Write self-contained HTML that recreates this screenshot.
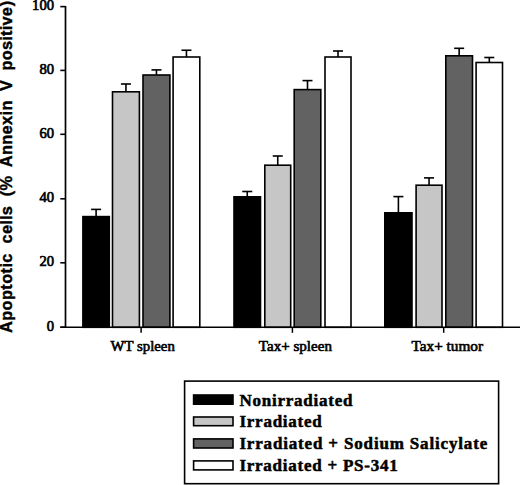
<!DOCTYPE html>
<html><head><meta charset="utf-8"><style>
html,body{margin:0;padding:0;background:#fff;}
svg{display:block;}
.tl{font-family:"Liberation Serif",serif;font-size:14.6px;fill:#000;stroke:#000;stroke-width:0.7px;}
.xl{font-family:"Liberation Serif",serif;font-size:13.8px;fill:#000;stroke:#000;stroke-width:0.6px;}
.yl{font-family:"Liberation Sans",sans-serif;font-weight:bold;font-size:16.4px;fill:#000;stroke:#000;stroke-width:0.4px;}
.lg{font-family:"Liberation Serif",serif;font-weight:bold;font-size:17px;fill:#000;stroke:#000;stroke-width:0.5px;}
</style></head><body>
<svg width="520" height="485" viewBox="0 0 520 485">
<rect width="520" height="485" fill="#fff"/>
<line x1="96.10" y1="209.40" x2="96.10" y2="216.60" stroke="#000" stroke-width="1.6"/>
<line x1="91.10" y1="209.40" x2="101.10" y2="209.40" stroke="#000" stroke-width="1.6"/>
<rect x="82.90" y="216.60" width="26.40" height="110.70" fill="#000" stroke="#000" stroke-width="1.6"/>
<line x1="125.95" y1="84.00" x2="125.95" y2="91.80" stroke="#000" stroke-width="1.6"/>
<line x1="120.95" y1="84.00" x2="130.95" y2="84.00" stroke="#000" stroke-width="1.6"/>
<rect x="112.50" y="91.80" width="26.90" height="235.50" fill="#c6c6c6" stroke="#000" stroke-width="1.6"/>
<line x1="156.45" y1="69.90" x2="156.45" y2="75.00" stroke="#000" stroke-width="1.6"/>
<line x1="151.45" y1="69.90" x2="161.45" y2="69.90" stroke="#000" stroke-width="1.6"/>
<rect x="143.00" y="75.00" width="26.90" height="252.30" fill="#626262" stroke="#000" stroke-width="1.6"/>
<line x1="186.45" y1="50.25" x2="186.45" y2="57.00" stroke="#000" stroke-width="1.6"/>
<line x1="181.45" y1="50.25" x2="191.45" y2="50.25" stroke="#000" stroke-width="1.6"/>
<rect x="173.10" y="57.00" width="26.70" height="270.30" fill="#fff" stroke="#000" stroke-width="1.6"/>
<line x1="247.25" y1="191.50" x2="247.25" y2="196.80" stroke="#000" stroke-width="1.6"/>
<line x1="242.25" y1="191.50" x2="252.25" y2="191.50" stroke="#000" stroke-width="1.6"/>
<rect x="234.00" y="196.80" width="26.50" height="130.50" fill="#000" stroke="#000" stroke-width="1.6"/>
<line x1="277.75" y1="156.00" x2="277.75" y2="165.20" stroke="#000" stroke-width="1.6"/>
<line x1="272.75" y1="156.00" x2="282.75" y2="156.00" stroke="#000" stroke-width="1.6"/>
<rect x="264.80" y="165.20" width="25.90" height="162.10" fill="#c6c6c6" stroke="#000" stroke-width="1.6"/>
<line x1="307.50" y1="80.60" x2="307.50" y2="89.60" stroke="#000" stroke-width="1.6"/>
<line x1="302.50" y1="80.60" x2="312.50" y2="80.60" stroke="#000" stroke-width="1.6"/>
<rect x="294.20" y="89.60" width="26.60" height="237.70" fill="#626262" stroke="#000" stroke-width="1.6"/>
<line x1="338.00" y1="51.00" x2="338.00" y2="57.00" stroke="#000" stroke-width="1.6"/>
<line x1="333.00" y1="51.00" x2="343.00" y2="51.00" stroke="#000" stroke-width="1.6"/>
<rect x="325.00" y="57.00" width="26.00" height="270.30" fill="#fff" stroke="#000" stroke-width="1.6"/>
<line x1="398.40" y1="196.60" x2="398.40" y2="212.80" stroke="#000" stroke-width="1.6"/>
<line x1="393.40" y1="196.60" x2="403.40" y2="196.60" stroke="#000" stroke-width="1.6"/>
<rect x="384.80" y="212.80" width="27.20" height="114.50" fill="#000" stroke="#000" stroke-width="1.6"/>
<line x1="429.05" y1="177.90" x2="429.05" y2="185.20" stroke="#000" stroke-width="1.6"/>
<line x1="424.05" y1="177.90" x2="434.05" y2="177.90" stroke="#000" stroke-width="1.6"/>
<rect x="416.10" y="185.20" width="25.90" height="142.10" fill="#c6c6c6" stroke="#000" stroke-width="1.6"/>
<line x1="459.15" y1="48.30" x2="459.15" y2="55.80" stroke="#000" stroke-width="1.6"/>
<line x1="454.15" y1="48.30" x2="464.15" y2="48.30" stroke="#000" stroke-width="1.6"/>
<rect x="445.80" y="55.80" width="26.70" height="271.50" fill="#626262" stroke="#000" stroke-width="1.6"/>
<line x1="489.30" y1="57.50" x2="489.30" y2="62.50" stroke="#000" stroke-width="1.6"/>
<line x1="484.30" y1="57.50" x2="494.30" y2="57.50" stroke="#000" stroke-width="1.6"/>
<rect x="476.10" y="62.50" width="26.40" height="264.80" fill="#fff" stroke="#000" stroke-width="1.6"/>
<line x1="60.3" y1="6.6" x2="65.5" y2="6.6" stroke="#000" stroke-width="1.6"/>
<text x="54" y="10.0" text-anchor="end" class="tl">100</text>
<line x1="60.3" y1="70.4" x2="65.5" y2="70.4" stroke="#000" stroke-width="1.6"/>
<text x="54" y="73.8" text-anchor="end" class="tl">80</text>
<line x1="60.3" y1="134.3" x2="65.5" y2="134.3" stroke="#000" stroke-width="1.6"/>
<text x="54" y="137.7" text-anchor="end" class="tl">60</text>
<line x1="60.3" y1="198.8" x2="65.5" y2="198.8" stroke="#000" stroke-width="1.6"/>
<text x="54" y="202.2" text-anchor="end" class="tl">40</text>
<line x1="60.3" y1="262.8" x2="65.5" y2="262.8" stroke="#000" stroke-width="1.6"/>
<text x="54" y="266.2" text-anchor="end" class="tl">20</text>
<line x1="60.3" y1="327.2" x2="65.5" y2="327.2" stroke="#000" stroke-width="1.6"/>
<text x="54" y="330.6" text-anchor="end" class="tl">0</text>
<line x1="65.5" y1="6" x2="65.5" y2="327.3" stroke="#000" stroke-width="1.7"/>
<line x1="60.3" y1="327.3" x2="520" y2="327.3" stroke="#000" stroke-width="1.6"/>
<line x1="141.1" y1="327.3" x2="141.1" y2="332.8" stroke="#000" stroke-width="1.5"/>
<line x1="292.4" y1="327.3" x2="292.4" y2="332.8" stroke="#000" stroke-width="1.5"/>
<line x1="443.7" y1="327.3" x2="443.7" y2="332.8" stroke="#000" stroke-width="1.5"/>
<text x="110.6" y="350.6" class="xl" textLength="64.2" lengthAdjust="spacingAndGlyphs">WT spleen</text>
<text x="258.8" y="350.6" class="xl" textLength="73.2" lengthAdjust="spacingAndGlyphs">Tax+ spleen</text>
<text x="411.5" y="350.6" class="xl" textLength="71.6" lengthAdjust="spacingAndGlyphs">Tax+ tumor</text>
<text transform="translate(11.6,0) rotate(-90)" x="-333.0" y="0" class="yl" textLength="79.5" lengthAdjust="spacing">Apoptotic</text>
<text transform="translate(11.6,0) rotate(-90)" x="-243.4" y="0" class="yl" textLength="37.2" lengthAdjust="spacing">cells</text>
<text transform="translate(11.6,0) rotate(-90)" x="-196.3" y="0" class="yl">(</text>
<text transform="translate(11.6,0) rotate(-90)" x="-190.4" y="0" class="yl">%</text>
<text transform="translate(11.6,0) rotate(-90)" x="-167.3" y="0" class="yl" textLength="66.7" lengthAdjust="spacing">Annexin</text>
<text transform="translate(11.6,0) rotate(-90)" x="-91.1" y="0" class="yl">V</text>
<text transform="translate(11.6,0) rotate(-90)" x="-70.5" y="0" class="yl" textLength="63.5" lengthAdjust="spacing">positive</text>
<text transform="translate(11.6,0) rotate(-90)" x="-6.2" y="0" class="yl">)</text>
<rect x="184.6" y="381.1" width="314.0" height="102.6" fill="#fff" stroke="#000" stroke-width="1.6"/>
<rect x="193.6" y="395.0" width="39.4" height="9.2" fill="#000" stroke="#000" stroke-width="1.6"/>
<text x="239.4" y="405.6" class="lg" textLength="113.0" lengthAdjust="spacing">Nonirradiated</text>
<rect x="193.6" y="417.0" width="39.4" height="8.7" fill="#c6c6c6" stroke="#000" stroke-width="1.6"/>
<text x="239.4" y="427.1" class="lg" textLength="82.4" lengthAdjust="spacing">Irradiated</text>
<rect x="193.6" y="438.9" width="39.4" height="9.1" fill="#626262" stroke="#000" stroke-width="1.6"/>
<text x="239.4" y="449.4" class="lg" textLength="247.8" lengthAdjust="spacing">Irradiated + Sodium Salicylate</text>
<rect x="193.6" y="460.9" width="39.4" height="9.0" fill="#fff" stroke="#000" stroke-width="1.6"/>
<text x="239.4" y="471.3" class="lg" textLength="158.3" lengthAdjust="spacing">Irradiated + PS-341</text>
</svg>
</body></html>
